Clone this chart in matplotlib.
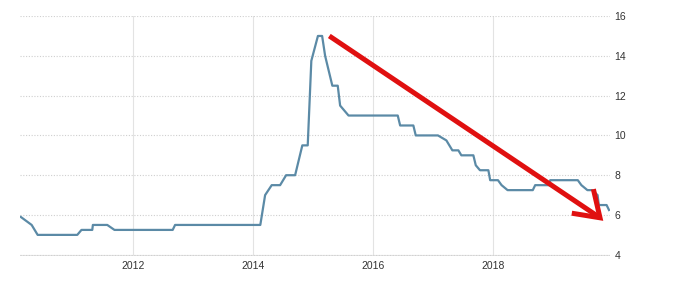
import matplotlib
matplotlib.use("Agg")
import matplotlib.pyplot as plt

# decimal years and rate (%)
dates = [2010.13, 2010.31, 2010.41, 2011.07, 2011.14, 2011.32, 2011.33, 2011.57,
         2011.69, 2012.66, 2012.70, 2014.12, 2014.20, 2014.31, 2014.45, 2014.55,
         2014.70, 2014.82, 2014.91, 2014.97, 2015.08, 2015.15, 2015.20, 2015.32,
         2015.41, 2015.45, 2015.59, 2016.41, 2016.45, 2016.67, 2016.71, 2017.08,
         2017.22, 2017.32, 2017.42, 2017.47, 2017.67, 2017.71, 2017.78, 2017.92,
         2017.95, 2018.08, 2018.14, 2018.24, 2018.66, 2018.70, 2018.94, 2018.95,
         2019.41, 2019.47, 2019.57, 2019.65, 2019.74, 2019.76, 2019.89, 2019.93]
rates = [5.9, 5.5, 5.0, 5.0, 5.25, 5.25, 5.5, 5.5,
         5.25, 5.25, 5.5, 5.5, 7.0, 7.5, 7.5, 8.0,
         8.0, 9.5, 9.5, 13.75, 15.0, 15.0, 14.0, 12.5,
         12.5, 11.5, 11.0, 11.0, 10.5, 10.5, 10.0, 10.0,
         9.75, 9.25, 9.25, 9.0, 9.0, 8.5, 8.25, 8.25,
         7.75, 7.75, 7.5, 7.25, 7.25, 7.5, 7.5, 7.75,
         7.75, 7.5, 7.25, 7.25, 7.0, 6.5, 6.5, 6.25]

year_ticks = [2012, 2014, 2016, 2018]
rate_ticks = [4, 6, 8, 10, 12, 14, 16]

# red trend arrow (annotation)
arrow_start = (2015.27, 15.0)
arrow_tip = (2019.78, 5.86)
head_a = (2019.67, 7.3)
head_b = (2019.31, 6.09)

plt.rcParams["font.family"] = ["Liberation Sans", "DejaVu Sans"]

fig = plt.figure(figsize=(6.75, 2.82), dpi=100)
ax = fig.add_axes([0.03, 0.093, 0.874, 0.85])

ax.plot(dates, rates, color="#5b8aa6", lw=1.6, zorder=3)

red = "#e01010"
ax.plot([arrow_start[0], arrow_tip[0]], [arrow_start[1], arrow_tip[1]],
        color=red, lw=3.6, solid_capstyle="butt", zorder=4)
ax.plot([head_a[0], arrow_tip[0], head_b[0]], [head_a[1], arrow_tip[1], head_b[1]],
        color=red, lw=3.6, solid_joinstyle="miter", solid_capstyle="butt", zorder=4)

ax.set_xlim(2010.12, 2019.95)
ax.set_ylim(3.95, 16.0)
ax.set_xticks(year_ticks)
ax.set_xticklabels([str(y) for y in year_ticks])
ax.set_yticks(rate_ticks)
ax.yaxis.tick_right()
ax.tick_params(axis="both", length=0, labelsize=7.5, colors="#333333")
ax.tick_params(axis="x", pad=4)
ax.tick_params(axis="y", pad=3)

ax.grid(axis="x", color="#e3e3e3", lw=0.8, ls="-")
ax.grid(axis="y", color="#cfcfcf", lw=0.8, ls=(0, (1, 1.5)))
ax.axhline(4, color="#e3e3e3", lw=0.8, zorder=0)
ax.set_axisbelow(True)
for s in ax.spines.values():
    s.set_visible(False)

plt.savefig("out.png", dpi=100)
